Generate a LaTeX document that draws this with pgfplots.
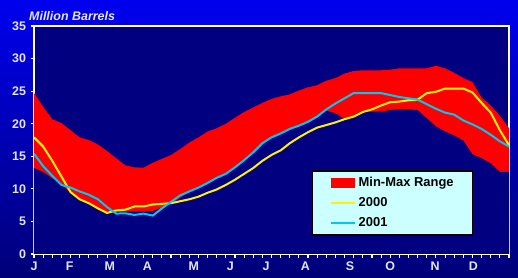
\documentclass[border=0pt]{standalone}
\usepackage{fontspec}
\setmainfont{Liberation Sans}
\usepackage{pgfplots}
\usepackage{pgfplotstable}
\pgfplotsset{compat=1.18}
\definecolor{navyc}{RGB}{0,0,128}
\definecolor{topblue}{RGB}{0,0,238}
\definecolor{botblue}{RGB}{0,0,120}
\definecolor{cyanl}{RGB}{0,200,240}
\definecolor{lgbox}{RGB}{204,255,255}
\definecolor{lbl}{RGB}{228,228,255}
\pgfplotstableread{
w  mx    mn    a     b
0  24.7  13.2  17.9  15.4
1  22.6  12.6  16.5  13.5
2  20.7  11.6  14.3  12.0
3  20.1  10.7  11.9  10.6
4  19.0  9.4   9.5   10.2
5  17.9  8.3   8.4   9.6
6  17.5  7.7   7.8   9.1
7  16.8  6.9   7.0   8.4
8  15.8  6.2   6.3   7.2
9  14.7  6.4   6.7   6.2
10 13.6  6.5   6.8   6.25
11 13.3  6.5   7.3   6.0
12 13.25 6.5   7.3   6.2
13 14.0  6.6   7.6   5.9
14 14.6  7.1   7.7   7.0
15 15.2  7.7   7.8   8.0
16 16.1  8.6   8.1   9.0
17 17.1  9.5   8.4   9.6
18 17.9  10.2  8.8   10.2
19 18.8  10.9  9.4   10.9
20 19.3  11.7  9.9   11.7
21 20.0  12.3  10.6  12.3
22 20.9  13.3  11.4  13.3
23 21.8  14.4  12.3  14.4
24 22.5  15.6  13.2  15.6
25 23.2  17.0  14.3  17.0
26 23.8  17.9  15.2  17.9
27 24.2  18.5  15.9  18.5
28 24.5  19.2  17.0  19.2
29 25.1  19.7  17.9  19.7
30 25.6  20.3  18.7  20.3
31 25.9  21.1  19.4  21.1
32 26.6  22.0  19.8  22.2
33 27.0  21.6  20.2  23.1
34 27.7  20.7  20.7  23.9
35 28.1  21.1  21.1  24.7
36 28.2  21.8  21.8  24.7
37 28.2  21.85 22.2  24.7
38 28.2  21.85 22.8  24.7
39 28.3  22.1  23.3  24.4
40 28.5  22.2  23.4  24.1
41 28.5  22.2  23.6  23.9
42 28.5  22.1  23.7  23.7
43 28.5  20.8  24.7  23.0
44 28.9  19.6  24.9  22.3
45 28.5  18.8  25.4  21.7
46 27.8  18.2  25.4  21.4
47 27.0  17.4  25.4  20.5
48 26.4  15.3  24.8  19.9
49 24.0  14.7  23.2  19.2
50 22.8  13.9  21.7  18.3
51 21.2  12.6  19.0  17.3
52 19.3  12.6  16.7  16.5
}\data
\begin{document}
\begin{tikzpicture}
\shade[top color=topblue, bottom color=botblue] (0,0) rectangle (518bp,278bp);
\node[anchor=base west, inner sep=0pt, text=lbl, font=\bfseries\itshape\fontsize{12.5}{14}\selectfont] at (29bp,257.5bp) {Million Barrels};
\begin{axis}[
  at={(34bp,24bp)}, anchor=south west,
  scale only axis, width=475bp, height=228bp,
  xmin=0, xmax=52, ymin=0, ymax=35,
  axis background/.style={fill=navyc},
  axis line style={white, line width=1.6bp},
  ytick={0,5,...,35},
  xtick={0,...,52}, xticklabels={},
  xtick pos=lower, ytick pos=left,
  tick align=outside,
  major tick length=3.5bp,
  tick style={white, line width=1.1bp},
  /pgf/number format/assume math mode=true,
  yticklabel style={text=lbl, font=\bfseries\fontsize{12.5}{14}\selectfont, xshift=-1bp},
  xticklabel style={text=lbl, font=\bfseries\fontsize{12.5}{14}\selectfont},
  extra x ticks={0,3.9,8.3,12.4,17.5,21.5,25.4,29.7,34.6,39,43.9,48.1},
  extra x tick labels={J,F,M,A,M,J,J,A,S,O,N,D},
  extra x tick style={major tick length=0pt, xticklabel style={yshift=-4bp}},
  legend style={at={(0.585,0.368)}, anchor=north west, fill=lgbox, draw=black,
    line width=1.6bp, inner xsep=17bp, inner ysep=4.5bp,
    font=\bfseries\fontsize{13}{15}\selectfont, row sep=5.5bp,
    /tikz/every odd column/.append style={column sep=1bp}},
  legend cell align=left,
]
\addplot[fill=red, draw=none, area legend,
  legend image code/.code={\fill[red] (0bp,-5.3bp) rectangle (24bp,5.3bp);}]
  table[x=w, y=mx] {\data} \closedcycle;
\addlegendentry{Min-Max Range}
\addplot[fill=navyc, draw=none, forget plot] table[x=w, y=mn] {\data} \closedcycle;
\addplot[yellow, line width=2bp, legend image code/.code={\draw[yellow, line width=2bp] (0bp,0bp) -- (24bp,0bp);}] table[x=w, y=a] {\data};
\addlegendentry{2000}
\addplot[cyanl, line width=2bp, legend image code/.code={\draw[cyanl, line width=2bp] (0bp,0bp) -- (24bp,0bp);}] table[x=w, y=b] {\data};
\addlegendentry{2001}
\end{axis}
\pgfresetboundingbox
\path[use as bounding box] (0,0) rectangle (518bp,278bp);
\end{tikzpicture}
\end{document}
